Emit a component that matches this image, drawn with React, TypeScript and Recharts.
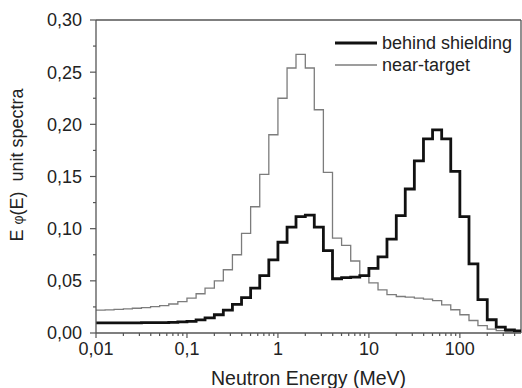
import { LineChart, Line, XAxis, YAxis, ReferenceLine, Legend, Label } from 'recharts';

// bin edges (MeV), 10 per decade; the last edge closes the final bin
const binEdges = [
  0.01, 0.0126, 0.0158, 0.02, 0.0251, 0.0316, 0.0398, 0.0501, 0.0631, 0.0794,
  0.1, 0.126, 0.158, 0.2, 0.251, 0.316, 0.398, 0.501, 0.631, 0.794,
  1, 1.26, 1.58, 2, 2.51, 3.16, 3.98, 5.01, 6.31, 7.94,
  10, 12.6, 15.8, 20, 25.1, 31.6, 39.8, 50.1, 63.1, 79.4,
  100, 126, 158, 200, 251, 316, 398, 501,
];

const behindShielding = [
  0.0098, 0.0098, 0.0098, 0.0098, 0.0098, 0.0099, 0.0099, 0.01, 0.0102, 0.0106,
  0.0112, 0.0125, 0.0145, 0.0175, 0.022, 0.0275, 0.034, 0.043, 0.055, 0.07,
  0.087, 0.1015, 0.1116, 0.113, 0.1015, 0.079, 0.052, 0.053, 0.0535, 0.055,
  0.062, 0.073, 0.09, 0.1125, 0.138, 0.165, 0.186, 0.1946, 0.186, 0.155,
  0.1116, 0.0663, 0.032, 0.0127, 0.0057, 0.003, 0.002,
];

const nearTarget = [
  0.022, 0.0222, 0.0226, 0.0231, 0.0237, 0.0244, 0.0253, 0.0263, 0.0278, 0.03,
  0.0335, 0.0376, 0.043, 0.05, 0.0606, 0.075, 0.0955, 0.121, 0.152, 0.19,
  0.225, 0.254, 0.267, 0.254, 0.214, 0.154, 0.091, 0.084, 0.069, 0.055,
  0.048, 0.0414, 0.0367, 0.035, 0.0344, 0.0335, 0.0325, 0.031, 0.027, 0.0223,
  0.0175, 0.012, 0.007, 0.0038, 0.0022, 0.0012, 0.001,
];

const xMajorTicks = [0.01, 0.1, 1, 10, 100];
const xMinorTicks = [
  0.02, 0.03, 0.04, 0.05, 0.06, 0.07, 0.08, 0.09,
  0.2, 0.3, 0.4, 0.5, 0.6, 0.7, 0.8, 0.9,
  2, 3, 4, 5, 6, 7, 8, 9,
  20, 30, 40, 50, 60, 70, 80, 90,
  200, 300, 400,
];
const xTickLabels = ['0,01', '0,1', '1', '10', '100'];

const yMajorTicks = [0, 0.05, 0.1, 0.15, 0.2, 0.25, 0.3];
const yMinorTicks = [0.025, 0.075, 0.125, 0.175, 0.225, 0.275];

const X_MAX = 470;
const FONT = "'Liberation Sans', Arial, sans-serif";
const TEXT = '#222';
const AXIS = '#555';

// stepAfter: each point holds its bin value until the next edge
const data = binEdges.map((edge, i) => {
  const j = Math.min(i, behindShielding.length - 1);
  return { edge, behind: behindShielding[j], near: nearTarget[j] };
});

function XTick(props: any) {
  const { x, y, payload } = props;
  const idx = xMajorTicks.indexOf(payload.value);
  const major = idx >= 0;
  return (
    <g>
      <line x1={x} x2={x} y1={y} y2={y + (major ? 5 : 3)} stroke={AXIS} strokeWidth={1.2} />
      {major && (
        <text x={x} y={y + 22} textAnchor="middle" fontSize={18} fontFamily={FONT} fill={TEXT}>
          {xTickLabels[idx]}
        </text>
      )}
    </g>
  );
}

function YTick(props: any) {
  const { x, y, payload } = props;
  const major = yMajorTicks.some((v) => Math.abs(v - payload.value) < 1e-6);
  return (
    <g>
      <line x1={x - (major ? 6 : 3)} x2={x} y1={y} y2={y} stroke={AXIS} strokeWidth={1.2} />
      {major && (
        <text x={x - 14} y={y} dy="0.36em" textAnchor="end" fontSize={18} fontFamily={FONT} fill={TEXT}>
          {payload.value.toFixed(2).replace('.', ',')}
        </text>
      )}
    </g>
  );
}

function renderLegend(props: any) {
  const items = [...(props.payload || [])].sort((a: any, b: any) =>
    String(a.value).localeCompare(String(b.value))
  );
  return (
    <div>
      {items.map((it: any) => (
        <div key={it.value} style={{ display: 'flex', alignItems: 'center', height: 22 }}>
          <svg width={42} height={22}>
            <line
              x1={0}
              x2={42}
              y1={11}
              y2={11}
              stroke={it.color}
              strokeWidth={it.dataKey === 'behind' ? 2.8 : 1.3}
            />
          </svg>
          <span style={{ marginLeft: 5, fontFamily: FONT, fontSize: 18, color: TEXT, lineHeight: '22px' }}>
            {it.value}
          </span>
        </div>
      ))}
    </div>
  );
}

export default function App() {
  const allYTicks = [...yMajorTicks, ...yMinorTicks].sort((a, b) => a - b);
  const allXTicks = [...xMajorTicks, ...xMinorTicks].sort((a, b) => a - b);

  return (
    <div style={{ position: 'absolute', left: 0, top: 0, width: 522, height: 388, background: '#fff' }}>
      <LineChart width={522} height={388} data={data} margin={{ top: 20, right: 1, left: 0, bottom: 0 }}>
        <XAxis
          dataKey="edge"
          type="number"
          scale="log"
          domain={[0.01, X_MAX]}
          allowDataOverflow
          ticks={allXTicks}
          interval={0}
          height={55}
          tickSize={0}
          tickMargin={0}
          tickLine={false}
          tick={<XTick />}
          axisLine={{ stroke: AXIS, strokeWidth: 1.3 }}
        >
          <Label
            value="Neutron Energy (MeV)"
            position="insideBottom"
            offset={3}
            style={{ fontFamily: FONT, fontSize: 19.5, fill: TEXT }}
          />
        </XAxis>
        <YAxis
          type="number"
          domain={[0, 0.3]}
          ticks={allYTicks}
          interval={0}
          width={96}
          tickSize={0}
          tickMargin={0}
          tickLine={false}
          tick={<YTick />}
          axisLine={{ stroke: AXIS, strokeWidth: 1.3 }}
        >
          <Label
            value="E φ(E)  unit spectra"
            content={() => (
              <text
                transform="translate(22.5,165) rotate(-90)"
                textAnchor="middle"
                fontFamily={FONT}
                fontSize={18}
                fill={TEXT}
                style={{ whiteSpace: 'pre' }}
              >
                {'E '}
                <tspan fontSize={14}>φ</tspan>
                {'(E)  unit spectra'}
              </text>
            )}
          />
        </YAxis>
        <ReferenceLine y={0.3} stroke={AXIS} strokeWidth={1.3} />
        <ReferenceLine x={X_MAX} stroke={AXIS} strokeWidth={1.3} />
        <Legend
          layout="horizontal"
          verticalAlign="middle"
          align="center"
          content={renderLegend}
          wrapperStyle={{ position: 'absolute', top: 31.7, left: 335, width: 190 }}
        />
        <Line
          type="stepAfter"
          dataKey="near"
          name="near-target"
          stroke="#7c7c7c"
          strokeWidth={1.3}
          dot={false}
          isAnimationActive={false}
        />
        <Line
          type="stepAfter"
          dataKey="behind"
          name="behind shielding"
          stroke="#111"
          strokeWidth={2.8}
          dot={false}
          isAnimationActive={false}
        />
      </LineChart>
    </div>
  );
}
